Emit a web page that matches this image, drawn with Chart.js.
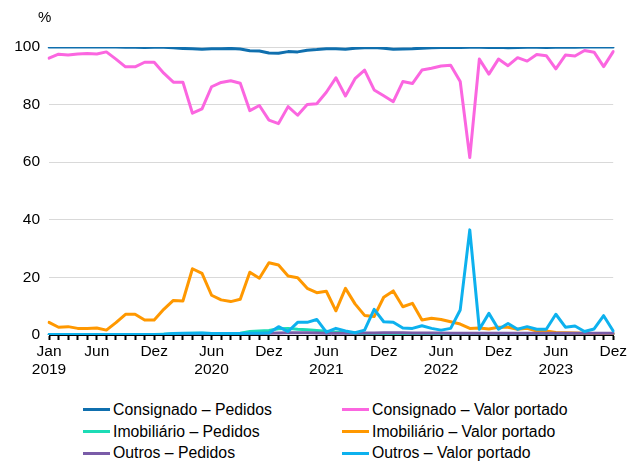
<!DOCTYPE html>
<html>
<head>
<meta charset="utf-8">
<script src="https://cdn.jsdelivr.net/npm/chart.js@4.4.0/dist/chart.umd.min.js"></script>
<style>
  body { margin: 0; background: #fff; font-family: "Liberation Sans", Arial, sans-serif; overflow: hidden; }
  #wrap { position: relative; width: 630px; height: 461px; }
  #chart { position: absolute; left: 0; top: 0; }
  #unit { position: absolute; left: 38px; top: 8px; font-size: 15px; color: #000; }
  #legend { position: absolute; left: 83px; top: 399px; display: grid; grid-template-columns: 259px 260px; row-gap: 0; }
  .item { display: flex; align-items: center; height: 21.7px; font-size: 15.8px; color: #000; white-space: nowrap; }
  .swatch { width: 27px; height: 3px; margin-right: 3px; }
</style>
</head>
<body>
<div id="wrap">
  <canvas id="chart" width="630" height="385"></canvas>
  <div id="unit">%</div>
  <div id="legend"></div>
</div>
<script>
// meses jan/2019 a dez/2023
const monthNames = ['Jan', 'Fev', 'Mar', 'Abr', 'Mai', 'Jun', 'Jul', 'Ago', 'Set', 'Out', 'Nov', 'Dez'];
const years = ['2019', '2020', '2021', '2022', '2023'];

// rótulos do eixo x que aparecem no gráfico (índice do mês)
const tickIndex = [0, 5, 11, 17, 23, 29, 35, 41, 47, 53, 59];
const tickYear = {0: '2019', 17: '2020', 29: '2021', 41: '2022', 53: '2023'};

const yTicks = [0, 20, 40, 60, 80, 100];

const seriesNames = [
    'Consignado – Pedidos',
    'Consignado – Valor portado',
    'Imobiliário – Pedidos',
    'Imobiliário – Valor portado',
    'Outros – Pedidos',
    'Outros – Valor portado'
];
const seriesColors = ['#0f6fae', '#fb66e0', '#1cdcb6', '#ff9800', '#7a5ca8', '#0db1ee'];

const consigPedidos = [
    100, 100, 100, 100, 100, 100, 100, 100, 99.9, 99.9,
    99.8, 99.9, 99.9, 99.7, 99.5, 99.4, 99.2, 99.4, 99.4, 99.5,
    99.3, 98.7, 98.6, 97.9, 97.8, 98.4, 98.3, 98.9, 99.1, 99.4,
    99.4, 99.2, 99.6, 99.7, 99.8, 99.6, 99.2, 99.3, 99.4, 99.6,
    99.7, 99.8, 99.9, 99.8, 99.9, 99.9, 99.8, 99.9, 99.7, 99.8,
    99.9, 99.9, 99.8, 99.9, 99.9, 99.9, 100, 100, 100, 100
];
const consigValor = [
    96.1, 97.5, 97.2, 97.6, 97.7, 97.6, 98.3, 95.8, 93.1, 93.1,
    94.7, 94.7, 90.9, 87.8, 87.8, 77.0, 78.5, 86.2, 87.7, 88.3,
    87.4, 77.9, 79.7, 74.6, 73.4, 79.3, 76.3, 80.0, 80.3, 84.3,
    89.3, 83.0, 89.0, 92.0, 85.1, 83.1, 81.0, 88.0, 87.3, 92.0,
    92.6, 93.4, 93.7, 88.0, 61.6, 95.8, 90.6, 95.8, 93.5, 96.3,
    95.1, 97.4, 97.0, 92.4, 97.2, 96.9, 98.8, 98.2, 93.2, 98.4
];
const imobPedidos = [
    0.1, 0.1, 0.1, 0.1, 0.1, 0.1, 0.1, 0.1, 0.2, 0.2,
    0.2, 0.2, 0.3, 0.4, 0.5, 0.6, 0.6, 0.5, 0.5, 0.5,
    0.6, 1.2, 1.4, 1.6, 2.2, 2.3, 2.0, 1.8, 1.6, 1.3,
    1.0, 0.8, 0.6, 0.5, 0.4, 0.4, 0.3, 0.3, 0.3, 0.3,
    0.3, 0.3, 0.3, 0.3, 0.2, 0.2, 0.2, 0.2, 0.2, 0.2,
    0.2, 0.2, 0.2, 0.2, 0.2, 0.2, 0.2, 0.2, 0.2, 0.2
];
const imobValor = [
    4.4, 2.7, 2.9, 2.3, 2.3, 2.4, 1.7, 4.3, 7.2, 7.2,
    5.2, 5.2, 8.9, 12.0, 11.8, 23.0, 21.4, 13.8, 12.2, 11.6,
    12.4, 21.8, 19.7, 25.1, 24.3, 20.5, 19.9, 16.2, 14.7, 15.2,
    8.4, 16.2, 10.8, 6.8, 6.4, 13.1, 15.3, 9.8, 11.0, 5.2,
    5.8, 5.4, 4.6, 3.8, 2.3, 2.4, 2.1, 2.7, 2.7, 2.0,
    2.3, 1.4, 1.4, 0.9, 0.8, 0.7, 0.6, 0.5, 0.5, 0.5
];
const outrosPedidos = [
    0.1, 0.1, 0.1, 0.1, 0.1, 0.1, 0.1, 0.1, 0.1, 0.1,
    0.1, 0.1, 0.2, 0.2, 0.2, 0.2, 0.2, 0.2, 0.2, 0.2,
    0.3, 0.4, 0.5, 0.6, 0.7, 0.8, 0.8, 0.8, 0.7, 0.6,
    0.6, 0.6, 0.6, 0.7, 0.7, 0.8, 0.8, 0.8, 0.7, 0.7,
    0.7, 0.7, 0.6, 0.6, 0.6, 0.6, 0.6, 0.6, 0.6, 0.6,
    0.6, 0.6, 0.6, 0.6, 0.6, 0.6, 0.6, 0.6, 0.6, 0.6
];
const outrosValor = [
    0.2, 0.2, 0.2, 0.2, 0.2, 0.2, 0.2, 0.2, 0.2, 0.2,
    0.2, 0.2, 0.3, 0.5, 0.6, 0.6, 0.7, 0.5, 0.5, 0.5,
    0.5, 0.6, 0.6, 0.7, 2.9, 1.2, 4.4, 4.4, 5.4, 1.0,
    2.3, 1.4, 0.8, 1.7, 8.9, 4.6, 4.4, 2.4, 2.3, 3.2,
    2.3, 1.7, 2.3, 8.7, 36.5, 2.0, 7.5, 2.0, 4.0, 2.0,
    2.9, 2.0, 2.0, 7.2, 2.7, 3.1, 1.2, 2.1, 6.7, 1.4
];

const allSeries = [consigPedidos, consigValor, imobPedidos, imobValor, outrosPedidos, outrosValor];

const labels = [];
years.forEach(y => monthNames.forEach(m => labels.push(m + ' ' + y)));

const datasets = allSeries.map((data, i) => ({
    label: seriesNames[i],
    data: data,
    borderColor: seriesColors[i],
    backgroundColor: seriesColors[i],
    borderWidth: 3,
    borderJoinStyle: 'round',
    borderCapStyle: 'round',
    pointRadius: 0,
    tension: 0,
    // o último da legenda fica por cima
    order: allSeries.length - i
}));

const fontBase = { family: '"Liberation Sans", Arial, sans-serif', size: 15.5 };

new Chart(document.getElementById('chart'), {
    type: 'line',
    data: { labels: labels, datasets: datasets },
    options: {
        responsive: false,
        animation: false,
        layout: { padding: { top: 47, right: 15, bottom: 0, left: 0 } },
        plugins: { legend: { display: false }, tooltip: { enabled: false } },
        scales: {
            x: {
                offset: false,
                grid: { display: true, drawOnChartArea: false, drawTicks: true, tickLength: 5, tickWidth: 2, color: '#000' },
                border: { display: true, color: '#000', width: 1 },
                ticks: {
                    autoSkip: false,
                    maxRotation: 0,
                    padding: 3,
                    color: '#000',
                    font: { ...fontBase, lineHeight: 1.17 },
                    callback: function (value, index) {
                        if (!tickIndex.includes(index)) return '';
                        const m = monthNames[index % 12];
                        return tickYear[index] ? [m, tickYear[index]] : m;
                    }
                },
                afterFit: s => { s.height = 50; }
            },
            y: {
                min: 0,
                max: 100,
                afterBuildTicks: s => { s.ticks = yTicks.map(v => ({ value: v })); },
                grid: { color: '#d9d9d9', lineWidth: 1, drawTicks: false },
                border: { display: false },
                ticks: { padding: 9, color: '#000', font: fontBase },
                afterFit: s => { s.width = 49; }
            }
        }
    }
});

// legenda em duas colunas
const legend = document.getElementById('legend');
[0, 1, 2, 3, 4, 5].forEach(i => {
    const item = document.createElement('div');
    item.className = 'item';
    item.innerHTML = `<span class="swatch" style="background:${seriesColors[i]}"></span>${seriesNames[i]}`;
    legend.appendChild(item);
});
</script>
</body>
</html>
